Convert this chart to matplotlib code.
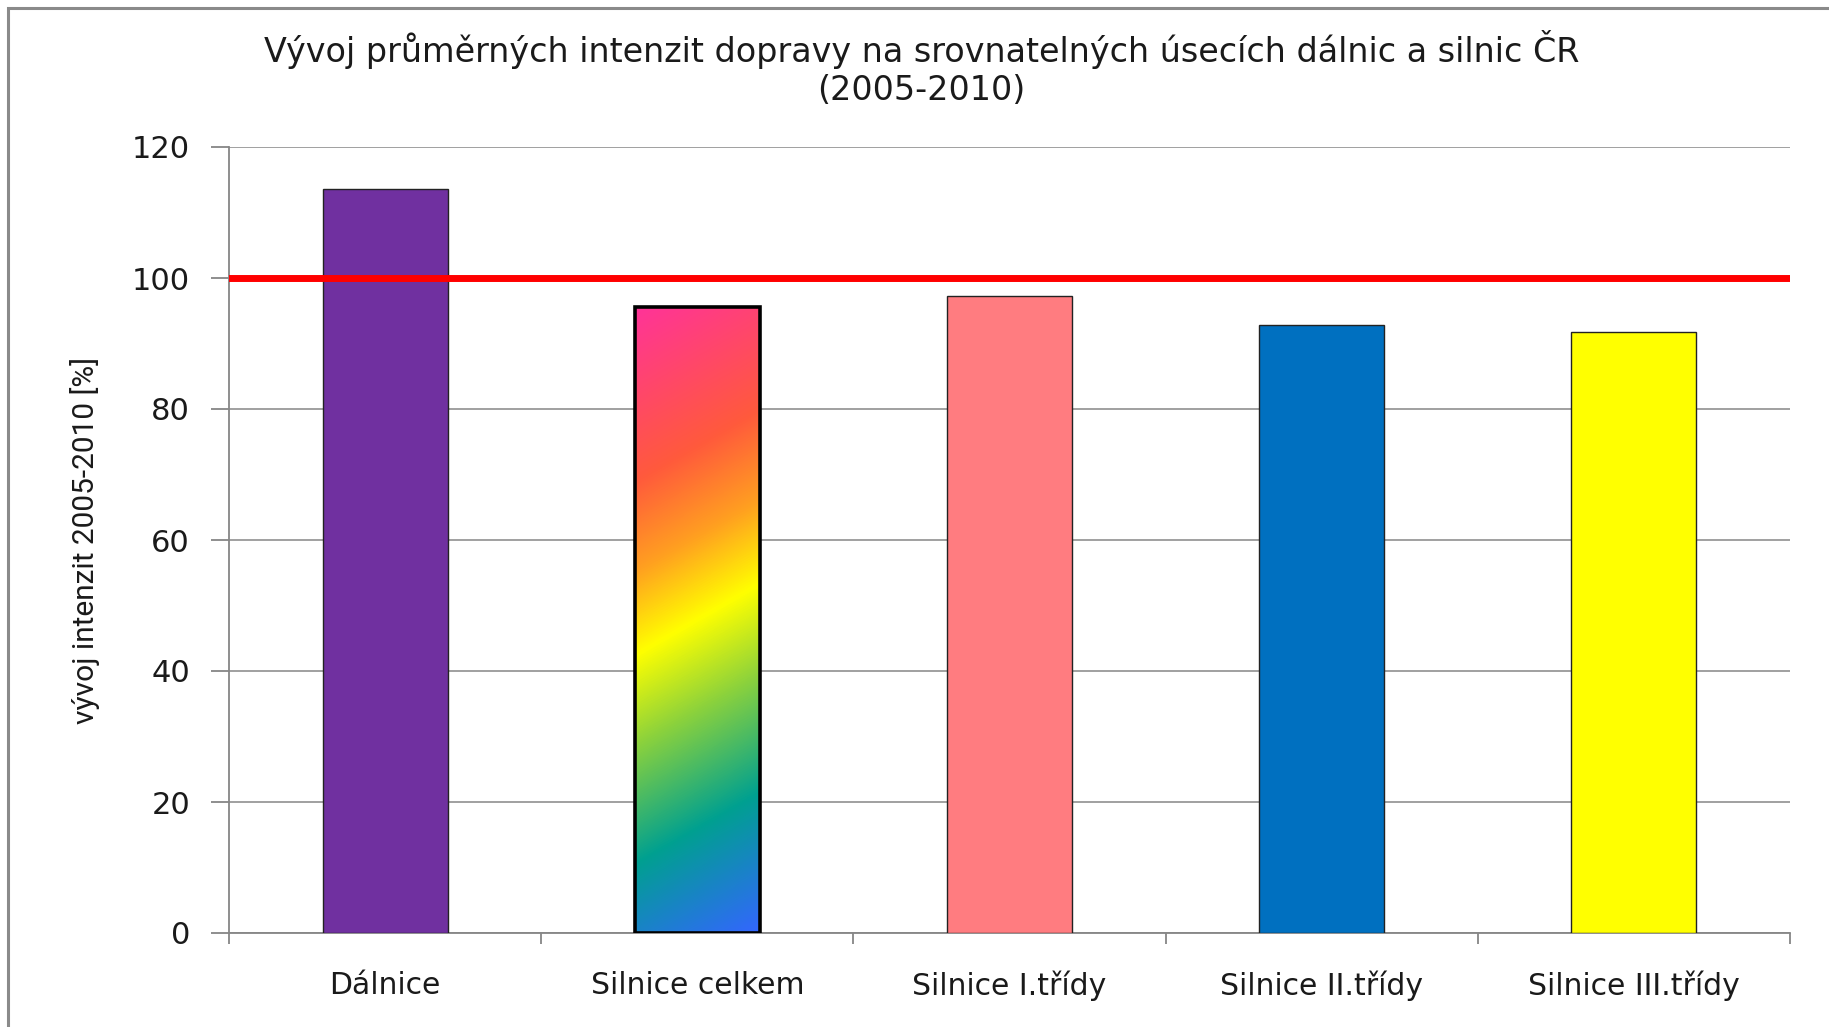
import numpy as np
import matplotlib
matplotlib.use("Agg")
import matplotlib.pyplot as plt
from matplotlib.colors import LinearSegmentedColormap
from matplotlib.patches import Rectangle

# ---- data ----
categories = ["Dálnice", "Silnice celkem", "Silnice I.třídy", "Silnice II.třídy", "Silnice III.třídy"]
values = [113.6, 95.6, 97.2, 92.9, 91.7]
bar_colors = ["#7030A0", None, "#FF7C80", "#0070C0", "#FFFF00"]  # None -> rainbow gradient
reference_level = 100
yticks = [0, 20, 40, 60, 80, 100, 120]
title = "Vývoj průměrných intenzit dopravy na srovnatelných úsecích dálnic a silnic ČR\n(2005-2010)"
ylabel = "vývoj intenzit 2005-2010 [%]"

W, H = 1829, 1027
DPI = 100
fig = plt.figure(figsize=(W / DPI, H / DPI), dpi=DPI)
fig.patch.set_facecolor("white")

# outer frame (gray, top & left visible)
fig.add_artist(Rectangle((8 / W, -0.1), 1.2, (1027 - 8) / H + 0.1, transform=fig.transFigure,
                         fill=False, edgecolor="#8a8a8a", linewidth=2.2))

ax_l, ax_r, ax_t, ax_b = 229, 1790, 147, 933
ax = fig.add_axes([ax_l / W, (H - ax_b) / H, (ax_r - ax_l) / W, (ax_b - ax_t) / H])

n = len(categories)
x = np.arange(n)
bw = 0.4
gray = "#868686"

ax.set_xlim(-0.5, n - 0.5)
ax.set_ylim(0, 120)
ax.set_yticks(yticks)
ax.yaxis.grid(True, color=gray, linewidth=1.1, zorder=0)
ax.set_axisbelow(True)

for s in ["top", "right"]:
    ax.spines[s].set_visible(False)
for s in ["left", "bottom"]:
    ax.spines[s].set_color(gray)
    ax.spines[s].set_linewidth(1.3)

bars = []
for i, (v, c) in enumerate(zip(values, bar_colors)):
    if c is None:
        b = ax.bar(x[i], v, width=bw, facecolor="none", edgecolor="black", linewidth=2.6, zorder=3)[0]
    else:
        b = ax.bar(x[i], v, width=bw, color=c, edgecolor="#222222", linewidth=1.0, zorder=3)[0]
    bars.append(b)

# rainbow gradient for "Silnice celkem"
gi = bar_colors.index(None)
gb = bars[gi]
stops = [(0.0, "#FF3399"), (0.25, "#FF5A3C"), (0.38, "#FFA020"), (0.5, "#FFFF00"),
         (0.63, "#8CD23C"), (0.8, "#00A090"), (1.0, "#3366FF")]
cmap = LinearSegmentedColormap.from_list("rainbow_xl", stops)
x0, x1 = x[gi] - bw / 2, x[gi] + bw / 2
y0, y1 = 0, values[gi]
p0 = ax.transData.transform((x0, y0))
p1 = ax.transData.transform((x1, y1))
pw, ph = abs(p1[0] - p0[0]), abs(p1[1] - p0[1])
nx, ny = 200, 600
u = np.linspace(0, 1, nx)[None, :] * pw
d = np.linspace(0, 1, ny)[:, None] * ph  # distance down from top
k = 0.57
t = (d + k * u) / (ph + k * pw)
img = ax.imshow(t, cmap=cmap, extent=(x0, x1, y0, y1), origin="upper", aspect="auto",
                zorder=2.5, interpolation="bilinear")
img.set_clip_path(gb)
ax.set_xlim(-0.5, n - 0.5)
ax.set_ylim(0, 120)

# reference line at 100
ax.axhline(reference_level, color="#FF0000", linewidth=5, zorder=4)

# ticks
ax.set_xticks(x)
ax.set_xticklabels(categories, fontsize=21.5, family="DejaVu Sans", color="#1a1a1a")
ax.set_xticks(np.arange(-0.5, n, 1.0), minor=True)
ax.tick_params(axis="x", which="major", length=0, pad=27)
ax.tick_params(axis="x", which="minor", length=8, width=1.3, color=gray, direction="out")
ax.tick_params(axis="y", which="major", length=13, width=1.3, color=gray, pad=15,
               labelsize=22, labelcolor="#1a1a1a")

ax.set_ylabel(ylabel, fontsize=21.5, family=["Liberation Sans Narrow", "Roboto"], color="#1a1a1a")
ax.yaxis.set_label_coords((100 - ax_l) / (ax_r - ax_l), 0.5)

fig.text(0.5 + 7 / W, 1 - 30 / H, title, ha="center", va="top", fontsize=24,
         family="DejaVu Sans", color="#1a1a1a", linespacing=1.2)

fig.savefig("out.png", dpi=DPI)
